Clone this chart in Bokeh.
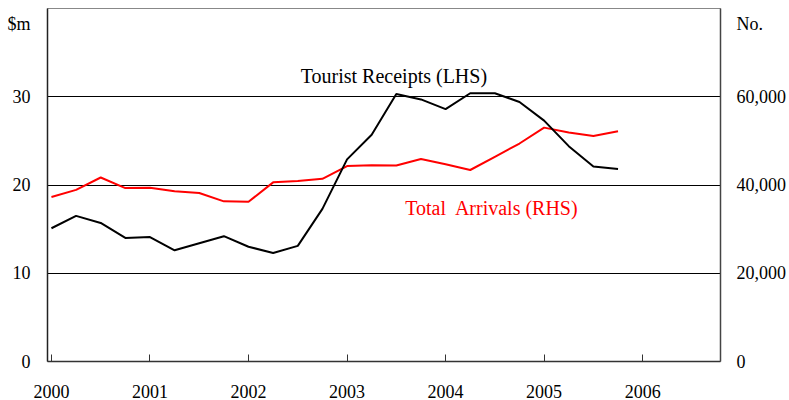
from bokeh.plotting import figure
from bokeh.models import Range1d, LinearAxis, FixedTicker, NumeralTickFormatter, Label
from bokeh.embed import file_html
from bokeh.resources import INLINE

# Quarterly data, 2000 Q1 .. 2005 Q4
years = [2000, 2001, 2002, 2003, 2004, 2005, 2006]
quarters = [2000 + q / 4 for q in range(24)]
receipts = [15.1, 16.5, 15.7, 14.0, 14.1, 12.6, 13.4, 14.2, 13.0, 12.3, 13.1, 17.3,
            22.9, 25.7, 30.3, 29.7, 28.6, 30.4, 30.4, 29.4, 27.3, 24.4, 22.1, 21.8]
arrivals = [37300, 38900, 41700, 39300, 39400, 38600, 38200, 36300, 36200, 40600, 40900, 41400,
            44300, 44500, 44400, 45900, 44700, 43400, 46400, 49400, 53000, 51900, 51100, 52200]
left_ticks = [0, 10, 20, 30]
right_ticks = [0, 20000, 40000, 60000]
left_unit, left_unit_pos = "$m", 38.3
right_unit, right_unit_pos = "No.", 76600

FONT = "Liberation Serif"
FS = "18px"
FS_ANN = "20px"

p = figure(width=789, height=400, output_backend="svg", toolbar_location=None,
           x_range=Range1d(1999.96, 2006.79), y_range=Range1d(0, 40),
           min_border_left=47, min_border_right=66, min_border_top=8, min_border_bottom=39)
p.background_fill_color = "white"
p.border_fill_color = "white"
p.outline_line_color = "#888888"
p.outline_line_width = 1

p.extra_y_ranges = {"rhs": Range1d(0, 80000)}

# grid
p.xgrid.grid_line_color = None
p.ygrid.ticker = FixedTicker(ticks=left_ticks)
p.ygrid.grid_line_color = "black"
p.ygrid.grid_line_width = 1

# x axis
xa = p.xaxis[0]
xa.ticker = FixedTicker(ticks=years)
xa.major_tick_in = 7
xa.major_tick_out = 0
xa.minor_tick_line_color = None
xa.major_tick_line_color = "#333333"
xa.axis_line_color = "#333333"
xa.axis_line_width = 1.5
xa.major_label_text_font = FONT
xa.major_label_text_font_size = FS
xa.major_label_text_color = "black"
xa.major_label_standoff = 23

# left axis (unit label shown as an extra tick label near the top)
ya = p.yaxis[0]
ya.ticker = FixedTicker(ticks=left_ticks + [left_unit_pos])
ya.major_label_overrides = {left_unit_pos: left_unit}
ya.major_tick_line_color = None
ya.minor_tick_line_color = None
ya.axis_line_color = "#222222"
ya.axis_line_width = 1.5
ya.major_label_text_font = FONT
ya.major_label_text_font_size = FS
ya.major_label_text_color = "black"
ya.major_label_standoff = 11

# right axis
ra = LinearAxis(y_range_name="rhs", ticker=FixedTicker(ticks=right_ticks + [right_unit_pos]),
                formatter=NumeralTickFormatter(format="0,0"))
ra.major_label_overrides = {right_unit_pos: right_unit}
ra.major_tick_line_color = None
ra.minor_tick_line_color = None
ra.axis_line_color = "#444444"
ra.axis_line_width = 1.5
ra.major_label_text_font = FONT
ra.major_label_text_font_size = FS
ra.major_label_text_color = "black"
ra.major_label_standoff = 10
p.add_layout(ra, "right")

# series
p.line(quarters, arrivals, y_range_name="rhs", line_color="#ff0000", line_width=2)
p.line(quarters, receipts, line_color="black", line_width=2)

# annotations
p.add_layout(Label(x=2002.53, y=32.4, text="Tourist Receipts (LHS)", text_font=FONT,
                   text_font_size=FS_ANN, text_color="black", text_baseline="middle"))
p.add_layout(Label(x=2003.59, y=17.45, text="Total\u00a0 Arrivals (RHS)", text_font=FONT,
                   text_font_size=FS_ANN, text_color="#ff0000", text_baseline="middle"))

open("out.html", "w").write(file_html(p, INLINE))
